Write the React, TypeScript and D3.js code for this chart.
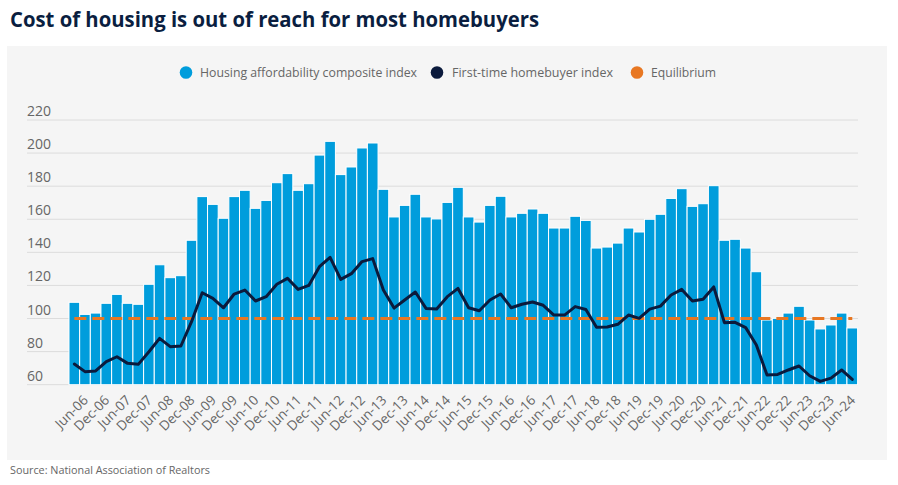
import React from "react";
import * as d3 from "d3";

const categories: string[] = [
  "Mar-06","Jun-06","Sep-06","Dec-06",
  "Mar-07","Jun-07","Sep-07","Dec-07",
  "Mar-08","Jun-08","Sep-08","Dec-08",
  "Mar-09","Jun-09","Sep-09","Dec-09",
  "Mar-10","Jun-10","Sep-10","Dec-10",
  "Mar-11","Jun-11","Sep-11","Dec-11",
  "Mar-12","Jun-12","Sep-12","Dec-12",
  "Mar-13","Jun-13","Sep-13","Dec-13",
  "Mar-14","Jun-14","Sep-14","Dec-14",
  "Mar-15","Jun-15","Sep-15","Dec-15",
  "Mar-16","Jun-16","Sep-16","Dec-16",
  "Mar-17","Jun-17","Sep-17","Dec-17",
  "Mar-18","Jun-18","Sep-18","Dec-18",
  "Mar-19","Jun-19","Sep-19","Dec-19",
  "Mar-20","Jun-20","Sep-20","Dec-20",
  "Mar-21","Jun-21","Sep-21","Dec-21",
  "Mar-22","Jun-22","Sep-22","Dec-22",
  "Mar-23","Jun-23","Sep-23","Dec-23",
  "Mar-24","Jun-24",
];

const compositeIndex: number[] = [
  109.8, 102.5, 103.3, 109.2, 114.6, 109.2, 108.6, 120.7, 132.5, 124.7,
  125.9, 147.3, 173.7, 169.0, 160.6, 173.7, 177.5, 166.6, 171.4, 182.1,
  187.6, 177.5, 181.5, 198.8, 207.1, 187.0, 191.6, 203.1, 206.1, 178.1,
  161.4, 168.4, 175.1, 161.4, 160.2, 170.2, 179.3, 161.4, 158.3, 168.4,
  173.9, 161.4, 163.6, 166.2, 163.6, 154.7, 154.7, 161.8, 159.3, 142.6,
  143.2, 145.6, 154.7, 152.3, 160.0, 163.0, 172.6, 178.5, 167.8, 169.4,
  180.3, 147.3, 147.9, 142.6, 128.3, 99.1, 100.1, 103.3, 107.4, 99.1,
  93.7, 96.1, 103.3, 94.3,
];

const firstTimeIndex: number[] = [
  72.5, 67.9, 68.3, 73.9, 76.9, 72.9, 72.3, 79.9, 88.0, 83.0,
  83.4, 98.1, 115.6, 112.2, 106.5, 114.8, 117.2, 110.6, 113.2, 120.7,
  124.3, 117.6, 120.0, 131.3, 137.0, 123.7, 127.1, 134.4, 136.2, 117.2,
  106.3, 111.2, 116.0, 106.1, 105.7, 113.2, 118.2, 106.5, 104.7, 111.2,
  114.8, 106.5, 108.6, 110.0, 108.0, 102.1, 102.1, 107.2, 105.5, 94.7,
  94.9, 96.5, 102.1, 100.1, 105.7, 107.5, 114.2, 117.6, 110.6, 111.6,
  119.1, 97.5, 97.7, 94.5, 84.0, 65.8, 66.2, 68.9, 71.3, 65.4,
  62.0, 64.0, 68.9, 63.2,
];

const equilibrium = 100;

const tickLabels: string[] = [
  "Jun-06","Dec-06","Jun-07","Dec-07","Jun-08","Dec-08","Jun-09","Dec-09",
  "Jun-10","Dec-10","Jun-11","Dec-11","Jun-12","Dec-12","Jun-13","Dec-13",
  "Jun-14","Dec-14","Jun-15","Dec-15","Jun-16","Dec-16","Jun-17","Dec-17",
  "Jun-18","Dec-18","Jun-19","Dec-19","Jun-20","Dec-20","Jun-21","Dec-21",
  "Jun-22","Dec-22","Jun-23","Dec-23","Jun-24",
];

const yTicks: number[] = [60, 80, 100, 120, 140, 160, 180, 200, 220];

const legendItems = [
  { label: "Housing affordability composite index", color: "#009ddc", cx: 186, tx: 200, w: 217 },
  { label: "First-time homebuyer index", color: "#0b1a3c", cx: 437, tx: 452, w: 161 },
  { label: "Equilibrium", color: "#e87722", cx: 637, tx: 651, w: 65 },
];

const FONT = "'Open Sans', 'Noto Sans', sans-serif";

export default function App() {
  const W = 898;
  const H = 485;
  const x = d3.scaleBand<string>().domain(categories).range([69, 857.6]).padding(0);
  const y = d3.scaleLinear().domain([60, 220]).range([384.7, 120]);

  const linePath = d3
    .line<number>()
    .x((_, i) => (x(categories[i]) as number) + x.bandwidth() / 2)
    .y((d) => y(d))
    .curve(d3.curveLinear)(firstTimeIndex) as string;

  const eqPath = d3
    .line<string>()
    .x((c) => (x(c) as number) + x.bandwidth() / 2)
    .y(() => y(equilibrium))(categories) as string;

  return (
    <svg width={W} height={H} style={{ position: "absolute", left: 0, top: 0 }} fontFamily={FONT}>
      <rect x={0} y={0} width={W} height={H} fill="#ffffff" />
      <text x={10} y={27} fontSize={21} fontWeight={700} fill="#0a1e40" textLength={529} lengthAdjust="spacingAndGlyphs">
        Cost of housing is out of reach for most homebuyers
      </text>
      <rect x={7} y={46} width={880} height={414} fill="#f5f5f5" />

      {legendItems.map((it) => (
        <g key={it.label}>
          <circle cx={it.cx} cy={72.5} r={6.3} fill={it.color} />
          <text x={it.tx} y={77.3} fontSize={13.5} fill="#666666" textLength={it.w} lengthAdjust="spacingAndGlyphs">
            {it.label}
          </text>
        </g>
      ))}

      {yTicks.map((t) => (
        <g key={t}>
          <line x1={27} x2={858} y1={y(t)} y2={y(t)} stroke="#dcdcdc" strokeWidth={1} />
          <text x={27} y={y(t) - 4} fontSize={14} fill="#666666">
            {t}
          </text>
        </g>
      ))}

      {compositeIndex.map((v, i) => (
        <rect
          key={categories[i]}
          x={x(categories[i])}
          y={y(v)}
          width={x.bandwidth()}
          height={y(60) - y(v)}
          fill="#009ddc"
          stroke="#ffffff"
          strokeWidth={1}
        />
      ))}

      <path d={eqPath} fill="none" stroke="#e87722" strokeWidth={3} strokeDasharray="12,6" />
      <path d={linePath} fill="none" stroke="#0b1a3c" strokeWidth={3} strokeLinejoin="round" strokeLinecap="round" />

      {tickLabels.map((lab) => {
        const cx = (x(lab) as number) + x.bandwidth() / 2 + 4;
        const cy = 401;
        return (
          <text
            key={lab}
            x={cx}
            y={cy}
            fontSize={13.5}
            fill="#666666"
            textAnchor="end"
            transform={`rotate(-45 ${cx} ${cy})`}
          >
            {lab}
          </text>
        );
      })}

      <text x={10} y={474} fontSize={11.5} fill="#666666" textLength={200} lengthAdjust="spacingAndGlyphs">
        Source: National Association of Realtors
      </text>
    </svg>
  );
}
